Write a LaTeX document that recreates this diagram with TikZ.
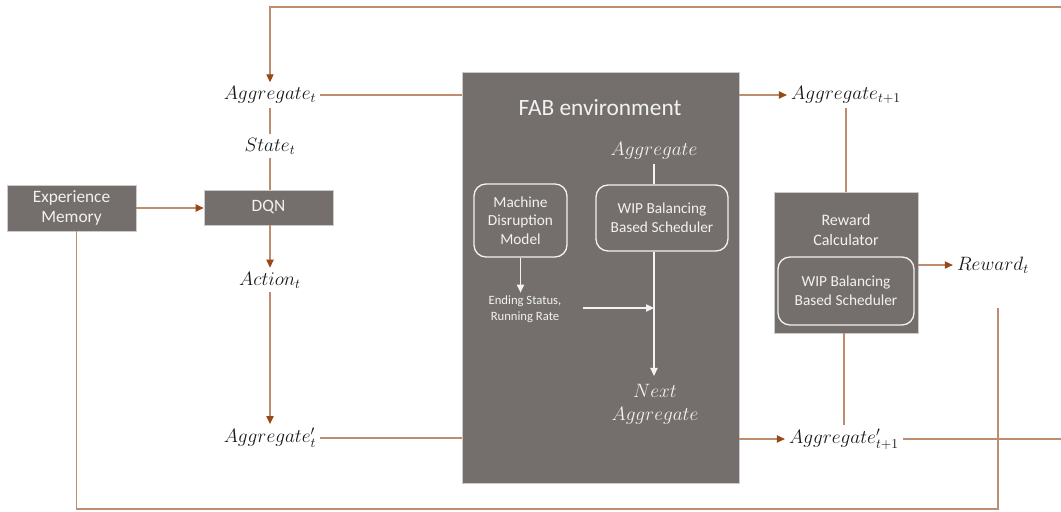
\RequirePackage{fix-cm}
\documentclass[tikz,border=0pt]{standalone}
\usepackage{fontspec}
\setmainfont{Carlito}
\usetikzlibrary{arrows.meta}
\definecolor{boxgray}{RGB}{116,111,109}
\definecolor{boxedge}{RGB}{205,203,201}
\definecolor{linebrown}{RGB}{190,140,110}
\definecolor{tipbrown}{RGB}{150,72,22}
\definecolor{inwhite}{RGB}{242,242,242}
\definecolor{labelink}{RGB}{25,25,25}
\begin{document}
\begin{tikzpicture}[x=0.75pt,y=-0.75pt,
  pxsize/.style 2 args={minimum width=#1*0.75pt, minimum height=#2*0.75pt},
  graybox/.style={fill=boxgray, draw=boxedge, line width=0.5pt, inner sep=0pt,
    text=inwhite, align=center},
  roundbox/.style={draw=inwhite, line width=1pt, rounded corners=9pt, inner sep=0pt,
    text=inwhite, align=center, font=\fontsize{11.5}{14}\selectfont},
  mathfont/.style={font=\fontsize{14.5}{17}\selectfont},
  mathlbl/.style={mathfont, text=labelink, inner sep=3pt},
  conn/.style={draw=linebrown, line width=0.8pt},
  arr/.style={conn, -{Triangle[length=6pt,width=5.5pt,color=tipbrown]}},
  wline/.style={draw=inwhite, line width=0.8pt},
  warr/.style={wline, -{Triangle[length=6pt,width=5.5pt]}},
]
\useasboundingbox (0,0) rectangle (1061,511);

% main blocks
\node[graybox, pxsize={277}{411}] (fab) at (600.5,277.5) {};
\node[graybox, pxsize={129}{46}, font=\fontsize{13}{15.5}\selectfont] (em) at (71.5,208) {Experience\\Memory};
\node[graybox, pxsize={129}{35}, font=\fontsize{13}{15.5}\selectfont] (dqn) at (268.5,207.5) {DQN};
\node[graybox, pxsize={144}{141}] (rc) at (846,262.5) {};
\node[text=inwhite, font=\fontsize{12}{14.5}\selectfont, align=center] (rctitle) at (846,230) {Reward\\Calculator};
\node[roundbox, pxsize={136}{68}] (rcwip) at (846,291) {WIP Balancing\\Based Scheduler};

% inside the FAB environment
\node[text=inwhite, font=\fontsize{17.5}{20}\selectfont] (fabtitle) at (600,108) {FAB environment};
\node[mathfont, text=inwhite, inner sep=3pt] (aggin) at (654,151) {$Aggregate$};
\node[roundbox, pxsize={93}{73}] (mdm) at (520.5,220.5) {Machine\\Disruption\\Model};
\node[roundbox, pxsize={132}{66}] (wip) at (662,218) {WIP Balancing\\Based Scheduler};
\node[text=inwhite, font=\fontsize{9.5}{12}\selectfont, align=center, inner sep=2pt] (es) at (525,309) {Ending Status,\\Running Rate};
\node[mathfont, text=inwhite, align=center, inner sep=6pt] (next) at (655,404) {$Next$\\$Aggregate$};
\coordinate (esout) at (583,308);

% outer labels
\node[mathlbl] (agt) at (270,95) {$Aggregate_t$};
\node[mathlbl] (st) at (270,146) {$State_t$};
\node[mathlbl] (act) at (270,280) {$Action_t$};
\node[mathlbl] (agpt) at (270,438) {$Aggregate'_t$};
\node[mathlbl] (agt1) at (846,95) {$Aggregate_{t+1}$};
\node[mathlbl] (agpt1) at (844,439) {$Aggregate'_{t+1}$};
\node[mathlbl] (rew) at (993,265) {$Reward_t$};

\coordinate (topR) at (1061,7);
\coordinate (retturn) at (998,509);
\coordinate (retend) at (998,308);
\coordinate (rightout) at (1061,437);

% connectors
\draw[arr] (topR) -| (agt.north);
\draw[conn] (agt.east) -- (agt.east -| fab.west);
\draw[conn] (agt.south) -- (st.north);
\draw[conn] (st.south) -- (st.south |- dqn.north);
\draw[arr] (em.east) -- (em.east -| dqn.west);
\draw[arr] (act.north |- dqn.south) -- (act.north);
\draw[arr] (act.south) -- (agpt.north);
\draw[conn] (agpt.east) -- (agpt.east -| fab.west);
\draw[conn] ([xshift=3.4pt]em.south) |- (retturn) -- (retend);
\draw[arr] (agt1.west -| fab.east) -- (agt1.west);
\draw[conn] (agt1.south) -- (agt1.south |- rc.north);
\draw[arr] (rew.west -| rc.east) -- (rew.west);
\draw[conn] (agpt1.north |- rc.south) -- (agpt1.north);
\draw[arr] (agpt1.west -| fab.east) -- (agpt1.west);
\draw[conn] (agpt1.east) -- (agpt1.east -| rightout);

% flows inside the FAB environment
\draw[wline] (aggin.south) -- (aggin.south |- wip.north);
\draw[warr] (aggin.south |- wip.south) -- (aggin.south |- next.north);
\draw[warr] (mdm.south) -- (mdm.south |- es.north);
\draw[warr] (esout) -- (esout -| aggin.south);
\end{tikzpicture}
\end{document}
